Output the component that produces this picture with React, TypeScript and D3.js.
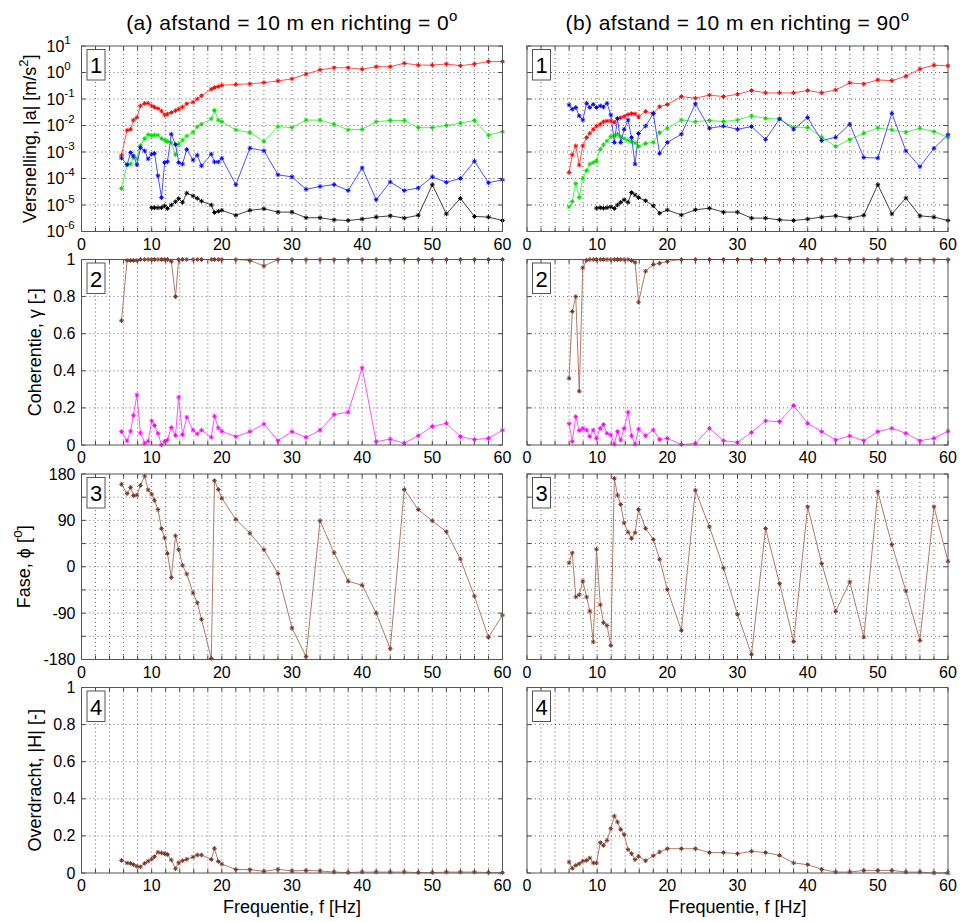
import React from "react";
import * as d3 from "d3";

// ---------- DATA ----------
const FREQ_A = [5.7, 6.5, 7.0, 7.4, 7.9, 8.4, 9.0, 9.5, 10.0, 10.4, 10.9, 11.4, 11.85, 12.25, 12.8, 13.4, 13.85, 14.4, 15.0, 15.9, 16.5, 17.1, 18.5, 18.95, 19.5, 20, 22, 24, 26, 28, 30, 32, 34, 36, 38, 40, 42, 44, 46, 48, 50, 52, 54, 56, 58, 60];
const FREQ_B = [6.0, 6.45, 6.95, 7.45, 7.95, 8.5, 8.95, 9.45, 9.9, 10.45, 10.9, 11.4, 11.95, 12.45, 12.9, 13.35, 13.85, 14.4, 14.9, 15.4, 15.9, 16.9, 18.0, 18.9, 20.0, 22, 24, 26, 28, 30, 32, 34, 36, 38, 40, 42, 44, 46, 48, 50, 52, 54, 56, 58, 60];

// panel (a) 1: acceleration |a| [m/s2]
const ACC_A_RED = [7.6e-4, 6.6e-3, 7.2e-3, 1.6e-2, 2.0e-2, 5.5e-2, 6.8e-2, 6.9e-2, 5.5e-2, 4.9e-2, 4.4e-2, 3.5e-2, 2.5e-2, 2.7e-2, 3.1e-2, 3.6e-2, 4.2e-2, 5.0e-2, 6.6e-2, 7.6e-2, 0.1, 0.132, 0.234, 0.27, 0.295, 0.33, 0.355, 0.37, 0.417, 0.48, 0.575, 0.87, 1.26, 1.51, 1.51, 1.32, 1.66, 1.66, 2.24, 1.9, 1.9, 2.1, 1.8, 2.1, 2.57, 2.57];
const ACC_A_GREEN = [4.2e-5, 3.3e-4, 3.5e-4, 6.3e-4, 5.6e-4, 1.74e-3, 3.2e-3, 4.5e-3, 4.2e-3, 4.4e-3, 4.3e-3, 3.2e-3, 2.8e-3, 2.5e-3, 2.2e-3, 7.9e-4, 2.0e-3, 2.8e-3, 4.0e-3, 5.6e-3, 8.9e-3, 1.12e-2, 1.78e-2, 3.7e-2, 1.6e-2, 1.4e-2, 6.8e-3, 5.4e-3, 2.5e-3, 9.1e-3, 8.3e-3, 1.6e-2, 1.6e-2, 1.12e-2, 6.8e-3, 7.2e-3, 1.38e-2, 1.55e-2, 1.55e-2, 8.3e-3, 8.3e-3, 1.0e-2, 1.23e-2, 1.55e-2, 4.3e-3, 5.8e-3];
const ACC_A_BLUE = [5.9e-4, 3.3e-4, 9.5e-4, 7.1e-4, 3.3e-4, 1.45e-3, 1.1e-3, 5.5e-4, 8.3e-4, 8.9e-4, 1.26e-4, 1.9e-5, 4.0e-4, 4.3e-4, 4.7e-3, 1.9e-3, 4.0e-4, 3.5e-4, 1.26e-3, 5.0e-4, 7.6e-4, 3.0e-4, 8.3e-4, 4.2e-4, 4.2e-4, 5.8e-4, 5.8e-5, 1.4e-3, 1.12e-3, 1.38e-4, 1.15e-4, 3.9e-5, 5.0e-5, 5.9e-5, 3.5e-5, 2.5e-4, 1.58e-5, 7.4e-5, 3.5e-5, 4.4e-5, 1.15e-4, 7.2e-5, 1.0e-4, 4.5e-4, 6.9e-5, 8.9e-5];
const ACC_A_BLACK = [null, null, null, null, null, null, null, null, 7.9e-6, 7.9e-6, 7.9e-6, 7.9e-6, 9.3e-6, 7.4e-6, 1.0e-5, 1.32e-5, 1.74e-5, 1.26e-5, 2.8e-5, 2.2e-5, 1.78e-5, 1.4e-5, 1.0e-5, 5.2e-6, 5.8e-6, 6.3e-6, 4.1e-6, 6.3e-6, 7.2e-6, 5.4e-6, 5.4e-6, 3.3e-6, 3.3e-6, 2.75e-6, 2.6e-6, 2.95e-6, 3.5e-6, 3.9e-6, 3.2e-6, 4.1e-6, 5.8e-5, 4.6e-6, 1.78e-5, 3.7e-6, 3.5e-6, 2.6e-6];

// panel (a) 2: coherence
const COH_A_BROWN = [0.67, 0.995, 0.995, 0.995, 0.995, 1, 1, 1, 1, 1, 1, 1, 1, 1, 0.99, 0.8, 1, 1, 1, 1, 1, 1, 1, 1, 1, 1, 1, 0.995, 0.965, 1, 1, 1, 1, 1, 1, 1, 1, 1, 1, 1, 1, 1, 1, 1, 1, 1];
const COH_A_PINK = [0.072, 0.022, 0.075, 0.16, 0.27, 0.065, 0.01, 0.02, 0.13, 0.105, 0.063, 0.0, 0.02, 0.027, 0.094, 0.052, 0.258, 0.056, 0.15, 0.08, 0.06, 0.08, 0.042, 0.155, 0.092, 0.074, 0.045, 0.072, 0.113, 0.023, 0.072, 0.041, 0.08, 0.164, 0.177, 0.416, 0.018, 0.032, 0.009, 0.05, 0.1, 0.117, 0.045, 0.029, 0.036, 0.08];

// panel (a) 3: phase [deg]
const PHASE_A = [160, 142, 154, 138, 139, 158, 176, 149, 141, 129, 111, 74, 56, 26, -21, 60, 33, 3, -14, -51, -70, -102, -178, 167, 150, 133, 92, 65, 33, -13, -119, -174, 89, 27, -28, -36, -90, -159, 150, 111, 89, 68, 15, -57, -137, -94];

// panel (a) 4: transfer |H|
const TRANS_A = [0.068, 0.054, 0.052, 0.045, 0.036, 0.033, 0.052, 0.064, 0.075, 0.088, 0.112, 0.108, 0.104, 0.1, 0.07, 0.023, 0.055, 0.066, 0.074, 0.086, 0.097, 0.097, 0.073, 0.133, 0.062, 0.048, 0.019, 0.018, 0.009, 0.02, 0.011, 0.014, 0.011, 0.005, 0.002, 0.005, 0.005, 0.005, 0.005, 0.002, 0.002, 0.005, 0.005, 0.005, 0.002, 0.002];

// panel (b) 1
const ACC_B_RED = [1.7e-4, 7.8e-4, 1.7e-3, 3.2e-4, 1.7e-3, 3.5e-3, 5.1e-3, 7.2e-3, 9.5e-3, 1.12e-2, 1.38e-2, 1.48e-2, 1.48e-2, 1.32e-2, 1.82e-2, 1.95e-2, 2.2e-2, 2.6e-2, 2.8e-2, 2.75e-2, 2.1e-2, 3.4e-2, 2.9e-2, 5.1e-2, 6.2e-2, 0.123, 0.107, 0.141, 0.123, 0.151, 0.209, 0.17, 0.17, 0.17, 0.209, 0.17, 0.219, 0.407, 0.37, 0.525, 0.49, 0.724, 1.35, 1.9, 1.78];
const ACC_B_BLUE = [6.0e-2, 4.1e-2, 4.8e-2, 2.3e-2, 1.62e-2, 6.9e-2, 4.8e-2, 6.3e-2, 4.8e-2, 5.5e-2, 5.0e-2, 6.9e-2, 2.5e-2, 2.3e-3, 1.82e-2, 2.3e-3, 7.2e-3, 1.62e-2, 3.5e-3, 3.5e-4, 5.0e-3, 9.5e-3, 2.8e-2, 8.9e-4, 2.3e-3, 4.7e-3, 6.6e-2, 7.9e-3, 9.5e-3, 7.2e-3, 9.1e-3, 3.0e-3, 1.78e-2, 7.2e-3, 2.0e-2, 2.7e-3, 3.6e-3, 1.12e-2, 6.2e-4, 5.9e-4, 2.9e-2, 1.1e-3, 2.8e-4, 1.38e-3, 4.5e-3];
const ACC_B_GREEN = [8.5e-6, 1.35e-5, 6.5e-5, 1.9e-5, 1.02e-4, 2.0e-4, 3.5e-4, 4.0e-4, 4.7e-4, 1.26e-3, 1.86e-3, 2.6e-3, 3.8e-3, 4.1e-3, 4.7e-3, 3.8e-3, 3.2e-3, 2.75e-3, 2.5e-3, 2.2e-3, 1.62e-3, 2.1e-3, 2.3e-3, 5.4e-3, 7.9e-3, 1.62e-2, 1.38e-2, 1.55e-2, 1.41e-2, 1.62e-2, 2.3e-2, 1.86e-2, 1.74e-2, 8.5e-3, 8.5e-3, 3.6e-3, 1.62e-3, 2.9e-3, 5.1e-3, 8.1e-3, 6.8e-3, 5.6e-3, 7.9e-3, 5.9e-3, 3.6e-3];
const ACC_B_BLACK = [null, null, null, null, null, null, null, null, 7.6e-6, 7.9e-6, 7.6e-6, 7.9e-6, 8.5e-6, 7.4e-6, 1.0e-5, 1.26e-5, 1.58e-5, 1.26e-5, 2.95e-5, 2.4e-5, 1.9e-5, 1.45e-5, 9.3e-6, 4.9e-6, 6.5e-6, 4.2e-6, 6.6e-6, 7.6e-6, 5.4e-6, 5.4e-6, 3.2e-6, 3.2e-6, 2.75e-6, 2.6e-6, 2.95e-6, 3.5e-6, 3.9e-6, 3.2e-6, 4.1e-6, 5.8e-5, 4.6e-6, 1.82e-5, 3.9e-6, 3.5e-6, 2.6e-6];

// panel (b) 2
const COH_B_BROWN = [0.36, 0.72, 0.8, 0.29, 0.955, 0.996, 1, 1, 1, 1, 1, 1, 1, 1, 1, 1, 1, 1, 0.995, 0.985, 0.77, 0.937, 0.973, 0.98, 0.99, 1, 1, 1, 1, 1, 1, 1, 1, 1, 1, 1, 1, 1, 1, 1, 1, 1, 1, 1, 1];
const COH_B_PINK = [0.115, 0.018, 0.153, 0.078, 0.09, 0.081, 0.045, 0.081, 0.036, 0.09, 0.11, 0.063, 0.054, 0.005, 0.072, 0.027, 0.09, 0.177, 0.05, 0.005, 0.086, 0.05, 0.081, 0.03, 0.036, 0.002, 0.009, 0.09, 0.023, 0.014, 0.068, 0.13, 0.126, 0.213, 0.117, 0.072, 0.027, 0.049, 0.023, 0.072, 0.09, 0.063, 0.023, 0.036, 0.074];

// panel (b) 3
const PHASE_B = [7.5, 27, -58.7, -54.5, -28, -58.7, -86, -146, 34, -74, -108.6, -114, -153, 171.6, 139, 121, 85, 67, 55, 66, 111, 74.5, 53, 14.5, -44.4, -123.6, 148.5, 77.5, -2.3, -92.4, -170, 74.3, -32.8, -145, 116.4, 6.1, -86.6, -29.5, -136.5, 145.6, 43, -47, -143, 116.4, 10.7];

// panel (b) 4
const TRANS_B = [0.059, 0.025, 0.041, 0.05, 0.064, 0.068, 0.081, 0.054, 0.054, 0.164, 0.149, 0.176, 0.239, 0.307, 0.275, 0.235, 0.207, 0.126, 0.104, 0.072, 0.09, 0.066, 0.093, 0.113, 0.131, 0.131, 0.131, 0.11, 0.11, 0.104, 0.117, 0.11, 0.095, 0.054, 0.045, 0.02, 0.005, 0.005, 0.014, 0.014, 0.014, 0.005, 0.005, 0.0, 0.0];

const TITLES = ["(a) afstand = 10 m en richting = 0", "(b) afstand = 10 m en richting = 90"];
const X_TICKS = d3.range(0, 61, 2);
const X_LABELS = [0, 10, 20, 30, 40, 50, 60];
const LOG_TICKS = [1e-6, 1e-5, 1e-4, 1e-3, 1e-2, 1e-1, 1, 10];
const LIN_TICKS = [0, 0.2, 0.4, 0.6, 0.8, 1];
const LIN_LABELS = ["0", "0.2", "0.4", "0.6", "0.8", "1"];
const PHASE_GRID = [-180, -135, -90, -45, 0, 45, 90, 135, 180];
const PHASE_LABELS = [-180, -90, 0, 90, 180];

// ---------- LAYOUT ----------
const W = 967, H = 922;
const COL_X = [81.5, 527];
const PW = 421;
const ROW_Y = [46, 259.5, 474, 687.5];
const PH = 185.5;
const FONT = "Arial, 'Liberation Sans', Helvetica, sans-serif";

const C = {
  red: ["#ff0000", "#ff5050"],
  green: ["#00e000", "#50f050"],
  blue: ["#0000ff", "#5050ff"],
  black: ["#000000", "#404040"],
  pink: ["#ff00ff", "#ff50ff"],
  brown: ["#7a3424", "#b07a66"],
};

const STAR = "M-2.3,0H2.3M0,-2.3V2.3M-1.6,-1.6L1.6,1.6M-1.6,1.6L1.6,-1.6";

type Series = { f: number[]; v: (number | null)[]; color: string[] };

function Panel({ col, row, kind, series }: { col: number; row: number; kind: string; series: Series[] }) {
  const x0 = COL_X[col];
  const y0 = ROW_Y[row];
  const x = d3.scaleLinear().domain([0, 60]).range([x0, x0 + PW]);
  let y: any;
  if (kind === "log") y = d3.scaleLog().domain([1e-6, 10]).range([y0 + PH, y0]);
  else if (kind === "phase") y = d3.scaleLinear().domain([-180, 180]).range([y0 + PH, y0]);
  else y = d3.scaleLinear().domain([0, 1]).range([y0 + PH, y0]);

  const yGrid = kind === "log" ? LOG_TICKS : kind === "phase" ? PHASE_GRID : LIN_TICKS;
  const tl = 4;
  const els: any[] = [];

  els.push(<rect key="bg" x={x0} y={y0} width={PW} height={PH} fill="#fff" />);
  X_TICKS.forEach((t) => {
    if (t === 0 || t === 60) return;
    els.push(<line key={"gx" + t} x1={x(t)} x2={x(t)} y1={y0} y2={y0 + PH} stroke="#000" strokeWidth={0.8} strokeDasharray="1,3" opacity={0.75} />);
  });
  yGrid.forEach((t, i) => {
    const yy = y(t);
    if (Math.abs(yy - y0) < 0.5 || Math.abs(yy - (y0 + PH)) < 0.5) return;
    els.push(<line key={"gy" + i} x1={x0} x2={x0 + PW} y1={yy} y2={yy} stroke="#000" strokeWidth={0.8} strokeDasharray="1,3" opacity={0.75} />);
  });
  X_TICKS.forEach((t) => {
    els.push(<line key={"tb" + t} x1={x(t)} x2={x(t)} y1={y0 + PH} y2={y0 + PH - tl} stroke="#444" strokeWidth={1} />);
    els.push(<line key={"tt" + t} x1={x(t)} x2={x(t)} y1={y0} y2={y0 + tl} stroke="#444" strokeWidth={1} />);
  });
  yGrid.forEach((t, i) => {
    const yy = y(t);
    els.push(<line key={"tl" + i} x1={x0} x2={x0 + tl} y1={yy} y2={yy} stroke="#444" strokeWidth={1} />);
    els.push(<line key={"tr" + i} x1={x0 + PW} x2={x0 + PW - tl} y1={yy} y2={yy} stroke="#444" strokeWidth={1} />);
  });

  series.forEach((s, si) => {
    const pts = s.f.map((f, i) => [f, s.v[i]] as [number, number | null]);
    const line = d3
      .line<[number, number | null]>()
      .defined((d) => d[1] !== null)
      .x((d) => x(d[0]))
      .y((d) => y(d[1] as number));
    els.push(<path key={"l" + si} d={line(pts) || ""} fill="none" stroke={s.color[1]} strokeWidth={1} />);
    pts.forEach((p, i) => {
      if (p[1] === null) return;
      els.push(
        <path key={"m" + si + "-" + i} d={STAR} transform={`translate(${x(p[0])},${y(p[1])})`} stroke={s.color[0]} strokeWidth={1} fill="none" />
      );
    });
  });

  els.push(<rect key="box" x={x0} y={y0} width={PW} height={PH} fill="none" stroke="#555" strokeWidth={1} />);

  X_LABELS.forEach((t) => {
    els.push(
      <text key={"xl" + t} x={x(t)} y={y0 + PH + 18} textAnchor="middle" fontSize={16} fontFamily={FONT} fill="#000">
        {t}
      </text>
    );
  });

  if (col === 0) {
    if (kind === "log") {
      LOG_TICKS.forEach((t, i) => {
        const e = Math.round(Math.log10(t));
        els.push(
          <text key={"yl" + i} x={x0 - 35} y={y(t) + 5.5} fontSize={16} fontFamily={FONT} fill="#000">
            10
            <tspan dy={-8} fontSize={11.5}>{String(e)}</tspan>
          </text>
        );
      });
    } else if (kind === "phase") {
      PHASE_LABELS.forEach((t) => {
        els.push(
          <text key={"yl" + t} x={x0 - 6} y={y(t) + 5.5} textAnchor="end" fontSize={16} fontFamily={FONT} fill="#000">
            {t}
          </text>
        );
      });
    } else {
      LIN_TICKS.forEach((t, i) => {
        els.push(
          <text key={"yl" + i} x={x0 - 6} y={y(t) + 5.5} textAnchor="end" fontSize={16} fontFamily={FONT} fill="#000">
            {LIN_LABELS[i]}
          </text>
        );
      });
    }
  }

  els.push(<rect key="nb" x={x0 + 5.5} y={y0 + 3.5} width={18} height={30.5} fill="#fff" stroke="#555" strokeWidth={1} />);
  els.push(
    <text key="nt" x={x0 + 14.5} y={y0 + 27} textAnchor="middle" fontSize={22} fontFamily={FONT} fill="#000">
      {row + 1}
    </text>
  );

  return <g>{els}</g>;
}

const Y_LABEL_X = [36, 40.5, 29.5, 40.5];

export default function App() {
  const colA = [
    { kind: "log", series: [
      { f: FREQ_A, v: ACC_A_RED, color: C.red },
      { f: FREQ_A, v: ACC_A_GREEN, color: C.green },
      { f: FREQ_A, v: ACC_A_BLUE, color: C.blue },
      { f: FREQ_A, v: ACC_A_BLACK, color: C.black },
    ] },
    { kind: "lin", series: [
      { f: FREQ_A, v: COH_A_BROWN, color: C.brown },
      { f: FREQ_A, v: COH_A_PINK, color: C.pink },
    ] },
    { kind: "phase", series: [{ f: FREQ_A, v: PHASE_A, color: C.brown }] },
    { kind: "lin", series: [{ f: FREQ_A, v: TRANS_A, color: C.brown }] },
  ];
  const colB = [
    { kind: "log", series: [
      { f: FREQ_B, v: ACC_B_RED, color: C.red },
      { f: FREQ_B, v: ACC_B_GREEN, color: C.green },
      { f: FREQ_B, v: ACC_B_BLUE, color: C.blue },
      { f: FREQ_B, v: ACC_B_BLACK, color: C.black },
    ] },
    { kind: "lin", series: [
      { f: FREQ_B, v: COH_B_BROWN, color: C.brown },
      { f: FREQ_B, v: COH_B_PINK, color: C.pink },
    ] },
    { kind: "phase", series: [{ f: FREQ_B, v: PHASE_B, color: C.brown }] },
    { kind: "lin", series: [{ f: FREQ_B, v: TRANS_B, color: C.brown }] },
  ];

  const yMid = (r: number) => ROW_Y[r] + PH / 2;

  return (
    <div style={{ position: "absolute", left: 0, top: 0 }}>
      <svg width={W} height={H} style={{ display: "block", background: "#fff" }}>
        <rect x={0} y={0} width={W} height={H} fill="#fff" />
        {[colA, colB].map((cols, ci) =>
          cols.map((p, ri) => <Panel key={ci + "-" + ri} col={ci} row={ri} kind={p.kind} series={p.series as Series[]} />)
        )}
        {TITLES.map((t, i) => (
          <text key={"title" + i} x={COL_X[i] + PW / 2} y={30} textAnchor="middle" fontSize={21} letterSpacing={0.4} fontFamily={FONT} fill="#000">
            {t}
            <tspan dy={-9} fontSize={15}>o</tspan>
          </text>
        ))}
        <text transform={`translate(${Y_LABEL_X[0]},${yMid(0)}) rotate(-90)`} textAnchor="middle" fontSize={18} fontFamily={FONT} fill="#000">
          Versnelling, |a| [m/s<tspan dy={-8} fontSize={13}>2</tspan><tspan dy={8}>]</tspan>
        </text>
        <text transform={`translate(${Y_LABEL_X[1]},${yMid(1)}) rotate(-90)`} textAnchor="middle" fontSize={18} fontFamily={FONT} fill="#000">
          Coherentie, γ [-]
        </text>
        <text transform={`translate(${Y_LABEL_X[2]},${yMid(2)}) rotate(-90)`} textAnchor="middle" fontSize={18} fontFamily={FONT} fill="#000">
          Fase, ϕ [<tspan dy={-8} fontSize={14}>o</tspan><tspan dy={8}>]</tspan>
        </text>
        <text transform={`translate(${Y_LABEL_X[3]},${yMid(3)}) rotate(-90)`} textAnchor="middle" fontSize={18} fontFamily={FONT} fill="#000">
          Overdracht, |H| [-]
        </text>
        {[0, 1].map((i) => (
          <text key={"xlab" + i} x={COL_X[i] + PW / 2} y={913} textAnchor="middle" fontSize={18} fontFamily={FONT} fill="#000">
            Frequentie, f [Hz]
          </text>
        ))}
      </svg>
    </div>
  );
}
